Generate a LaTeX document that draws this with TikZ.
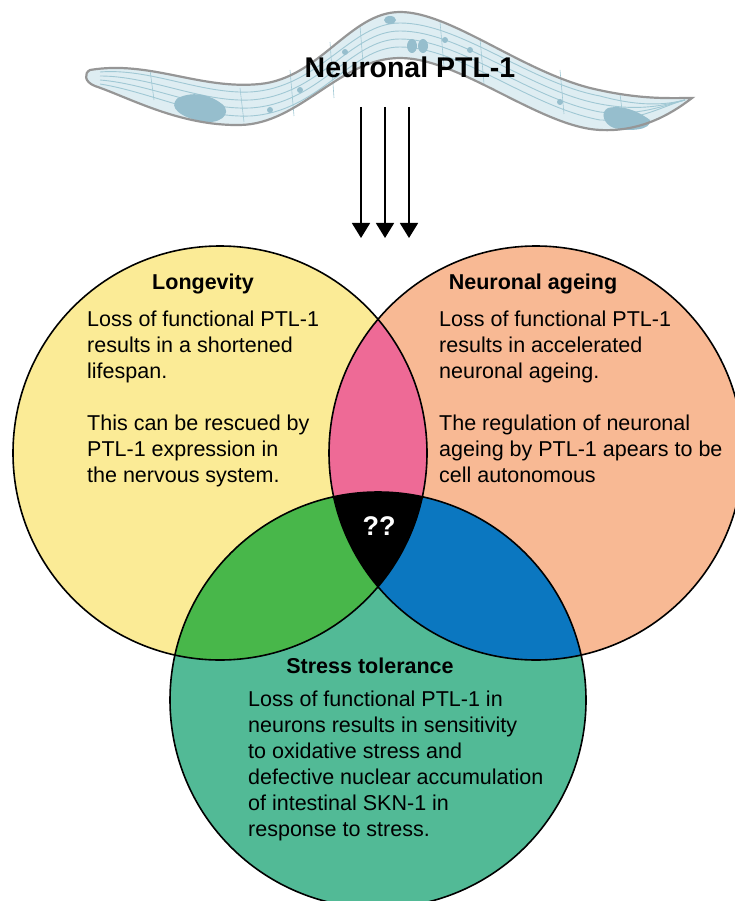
\documentclass[tikz,border=0pt]{standalone}
\usepackage{fontspec}
\setmainfont{Liberation Sans}
\usetikzlibrary{arrows.meta,positioning}

\definecolor{longcol}{RGB}{251,235,150}
\definecolor{agecol}{RGB}{248,185,148}
\definecolor{stresscol}{RGB}{82,186,150}
\definecolor{lacol}{RGB}{238,106,150}
\definecolor{lscol}{RGB}{72,183,74}
\definecolor{ascol}{RGB}{11,119,192}
\definecolor{wormfill}{RGB}{222,237,242}
\definecolor{wormline}{RGB}{150,150,150}
\definecolor{wormgut}{RGB}{160,200,212}
\definecolor{wormblob}{RGB}{150,190,205}

\begin{document}
\begin{tikzpicture}[x=1pt,y=-1pt,
    venn/.style={draw=black,line width=1.6pt},
    title/.style={font=\fontsize{21.5}{26}\selectfont\bfseries,inner sep=0pt,anchor=base},
    blurb/.style={font=\fontsize{21.5}{26}\selectfont,align=left,anchor=north west,inner sep=0pt},
    down/.style={-{Triangle[width=18pt,length=15pt]},line width=1.6pt}]
  \useasboundingbox (0,0) rectangle (735,901);

  % worm
  \fill[wormfill] (90,70) .. controls (150,60) and (200,90) .. (260,84)
    .. controls (320,78) and (350,12) .. (400,12)
    .. controls (450,12) and (520,70) .. (590,88)
    .. controls (640,100) and (670,98) .. (692,98)
    .. controls (670,115) and (640,132) .. (600,130)
    .. controls (540,127) and (460,58) .. (400,58)
    .. controls (340,58) and (300,124) .. (240,125)
    .. controls (180,126) and (130,98) .. (95,86)
    .. controls (84,82) and (84,73) .. (90,70) -- cycle;
  \foreach \dy in {-12,-4,4,12}
    \draw[wormgut,line width=0.9pt] (100,78+\dy*0.5) .. controls (150,80+\dy) and (200,106+\dy) .. (250,104+\dy)
      .. controls (320,100+\dy) and (350,35+\dy) .. (400,35+\dy)
      .. controls (460,35+\dy) and (530,95+\dy) .. (600,108+\dy)
      .. controls (640,114+\dy*0.6) and (665,105) .. (685,100);
  \foreach \x/\ya/\yb in {150/70/100,240/88/122,290/70/116,330/42/98,360/26/74,440/22/66,480/38/84,560/70/114,620/94/126}
    \draw[wormgut,line width=0.6pt] (\x,\ya) -- (\x+4,\yb);
  \fill[wormblob] (178,98) .. controls (195,90) and (212,96) .. (222,104)
    .. controls (234,114) and (218,126) .. (200,121) .. controls (184,118) and (166,108) .. (178,98) -- cycle;
  \fill[wormblob] (608,108) .. controls (625,104) and (642,114) .. (650,120)
    .. controls (652,130) and (630,132) .. (614,128) .. controls (603,124) and (600,112) .. (608,108) -- cycle;
  \fill[wormblob] (412,46) ellipse [x radius=5pt,y radius=7pt];
  \fill[wormblob] (423,46) ellipse [x radius=5pt,y radius=7pt];
  \fill[wormblob] (390,20) ellipse [x radius=6pt,y radius=4pt];
  \foreach \p in {(345,52),(300,90),(445,40),(470,50),(270,110),(560,102)}
    \fill[wormblob] \p circle [radius=3pt];
  \draw[wormline,line width=2.2pt] (90,70) .. controls (150,60) and (200,90) .. (260,84)
    .. controls (320,78) and (350,12) .. (400,12)
    .. controls (450,12) and (520,70) .. (590,88)
    .. controls (640,100) and (670,98) .. (692,98)
    .. controls (670,115) and (640,132) .. (600,130)
    .. controls (540,127) and (460,58) .. (400,58)
    .. controls (340,58) and (300,124) .. (240,125)
    .. controls (180,126) and (130,98) .. (95,86)
    .. controls (84,82) and (84,73) .. (90,70) -- cycle;

  \node[font=\fontsize{28.5}{34}\selectfont\bfseries,inner sep=0pt,anchor=base] (ptl) at (410,78) {Neuronal PTL-1};

  % arrows down to the diagram
  \foreach \x in {361,385,409} {
    \coordinate (s\x) at (\x,107);
    \coordinate (e\x) at (\x,238);
    \draw[down] (s\x) -- (e\x);
  }

  % venn
  \coordinate (cL) at (220,453);
  \coordinate (cR) at (536,453);
  \coordinate (cB) at (378,700);
  \fill[longcol] (cL) circle [radius=207pt];
  \fill[agecol] (cR) circle [radius=207pt];
  \fill[stresscol] (cB) circle [radius=208pt];
  \begin{scope}
    \clip (cL) circle [radius=207pt];
    \fill[lacol] (cR) circle [radius=207pt];
    \fill[lscol] (cB) circle [radius=208pt];
    \clip (cR) circle [radius=207pt];
    \fill[black] (cB) circle [radius=208pt];
  \end{scope}
  \begin{scope}
    \clip (cR) circle [radius=207pt];
    \clip (cB) circle [radius=208pt];
    \fill[ascol] (cB) circle [radius=208pt];
    \clip (cL) circle [radius=207pt];
    \fill[black] (cB) circle [radius=208pt];
  \end{scope}
  \draw[venn] (cL) circle [radius=207pt];
  \draw[venn] (cR) circle [radius=207pt];
  \draw[venn] (cB) circle [radius=208pt];

  \node[title] (lon) at (203,289) {Longevity};
  \node[title] (age) at (533,289) {Neuronal ageing};
  \node[title] (str) at (370,673) {Stress tolerance};
  \node[font=\fontsize{27}{32}\selectfont\bfseries,text=white,inner sep=0pt,anchor=base] (qq) at (379,535) {??};

  \node[blurb] (lontext) at (87,311) {Loss of functional PTL-1\\results in a shortened\\lifespan.\\[26pt]This can be rescued by\\PTL-1 expression in\\the nervous system.};
  \node[blurb] (agetext) at (439,311) {Loss of functional PTL-1\\results in accelerated\\neuronal ageing.\\[26pt]The regulation of neuronal\\ageing by PTL-1 apears to be\\cell autonomous};
  \node[blurb] (strtext) at (248,691) {Loss of functional PTL-1 in\\neurons results in sensitivity\\to oxidative stress and\\defective nuclear accumulation\\of intestinal SKN-1 in\\response to stress.};
\end{tikzpicture}
\end{document}
